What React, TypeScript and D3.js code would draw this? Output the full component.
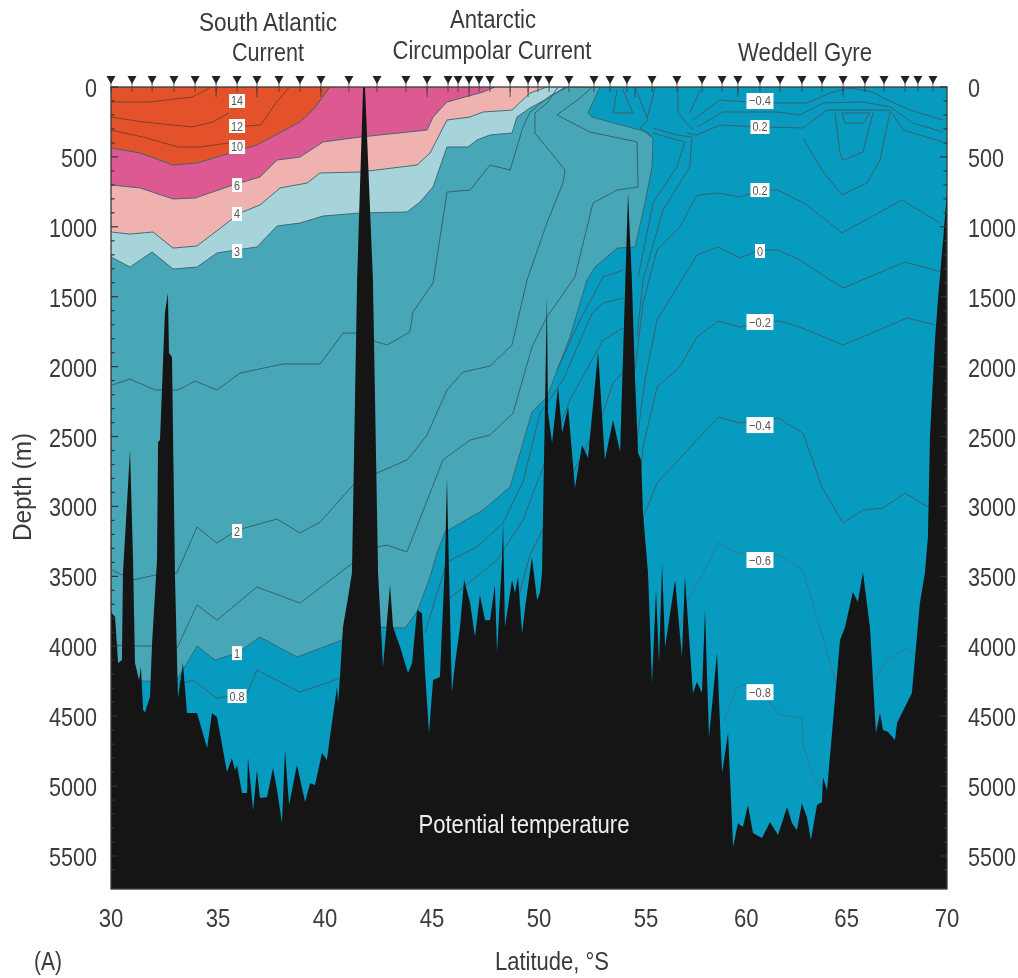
import React from "react";
import * as d3 from "d3";

type P = [number, number]; // [latitude °S, depth m]

const latTicks = [30, 35, 40, 45, 50, 55, 60, 65, 70];
const depthTicks = [0, 500, 1000, 1500, 2000, 2500, 3000, 3500, 4000, 4500, 5000, 5500];
const minorDepths = d3.range(0, 5700, 100);

const stationLat = [30, 30.98, 31.92, 32.94, 33.93, 34.91, 35.89, 36.82, 37.85, 38.83, 39.81, 41.12, 42.43, 43.78, 44.77, 45.75, 46.22, 46.73, 47.2, 47.71, 48.65, 49.49, 49.95, 50.47, 51.4, 52.57, 53.32, 54.11, 55.3, 56.54, 57.79, 58.79, 59.58, 60.68, 61.68, 62.77, 63.77, 64.82, 65.91, 66.86, 67.91, 68.55, 69.3];
const longTickLat = [34.91, 36.82, 39.81, 44.77, 46.73, 48.65, 49.49, 54.49, 59.58, 64.82];

const bathyLat = [30, 30.19, 30.33, 30.51, 30.56, 30.89, 31.03, 31.12, 31.31, 31.4, 31.5, 31.59, 31.82, 31.92, 32.15, 32.2, 32.29, 32.52, 32.66, 32.71, 32.85, 32.99, 33.13, 33.36, 33.55, 34.02, 34.49, 34.72, 34.95, 35.09, 35.42, 35.65, 35.79, 35.89, 36.12, 36.36, 36.4, 36.64, 36.82, 36.96, 37.29, 37.57, 37.76, 37.99, 38.13, 38.32, 38.69, 39.07, 39.3, 39.53, 39.86, 40.09, 40.23, 40.56, 40.61, 40.7, 40.84, 41.08, 41.26, 41.5, 41.78, 41.87, 42.24, 42.48, 42.71, 43.04, 43.18, 43.51, 43.88, 44.07, 44.3, 44.53, 44.67, 44.86, 45.05, 45.37, 45.61, 45.7, 45.75, 45.93, 46.08, 46.31, 46.5, 46.78, 47.01, 47.24, 47.48, 47.71, 47.94, 48.04, 48.27, 48.32, 48.41, 48.74, 48.88, 49.02, 49.21, 49.35, 49.67, 49.91, 50.05, 50.14, 50.37, 50.42, 50.61, 50.89, 51.08, 51.36, 51.68, 52.01, 52.29, 52.76, 53.08, 53.46, 53.79, 54.16, 54.34, 54.49, 54.63, 54.77, 54.86, 55.1, 55.3, 55.5, 55.65, 55.8, 55.95, 56.45, 56.79, 56.94, 57.34, 57.54, 57.79, 57.94, 58.14, 58.54, 58.79, 59.09, 59.34, 59.58, 59.83, 60.08, 60.33, 60.78, 61.18, 61.58, 62.03, 62.28, 62.52, 62.77, 63.02, 63.22, 63.52, 63.77, 63.82, 64.02, 64.27, 64.67, 64.92, 65.31, 65.56, 65.81, 66.16, 66.46, 66.66, 66.81, 67.06, 67.41, 67.51, 68.25, 68.65, 68.9, 69.05, 69.15, 69.4, 69.55, 69.9, 70];
const bathyDepth = [3755, 3791, 4120, 4099, 3476, 2597, 3383, 4120, 4242, 4149, 4456, 4471, 4363, 3977, 3383, 2539, 2525, 1617, 1474, 1903, 1931, 3505, 4371, 4120, 4478, 4478, 4728, 4478, 4506, 4621, 4900, 4800, 4886, 4850, 5050, 5050, 4793, 5172, 4886, 5086, 5079, 4871, 5029, 5265, 4742, 5136, 4850, 5114, 4979, 4993, 4764, 4814, 4650, 4292, 4406, 4220, 3863, 3648, 3476, 1381, 0, 0, 1381, 3476, 4149, 3562, 3863, 4006, 4192, 4120, 3741, 3763, 4170, 4621, 4242, 4220, 3383, 2790, 3169, 4328, 4120, 3863, 3526, 3691, 3934, 3634, 3813, 3813, 3562, 4049, 3383, 3119, 3863, 3526, 3619, 3505, 3906, 3727, 3362, 3670, 3612, 3476, 1502, 2332, 2546, 2146, 2475, 2289, 2868, 2561, 2654, 1896, 2668, 2382, 2611, 758, 1381, 2096, 2618, 2668, 3047, 3476, 4263, 3598, 4120, 3405, 4006, 3526, 4077, 3505, 4335, 4256, 4335, 3741, 4650, 4049, 4907, 4621, 5436, 5265, 5293, 5136, 5336, 5372, 5257, 5350, 5150, 5265, 5315, 5122, 5222, 5386, 5136, 5114, 4936, 5029, 4621, 3956, 3863, 3612, 3684, 3469, 3863, 4621, 4478, 4599, 4614, 4671, 4549, 4335, 3691, 3476, 3219, 2504, 1810, 1524, 930, 737];
const seafloor: P[] = bathyLat.map((l, i) => [l, bathyDepth[i]]);

const iso8: P[] = [[30, 436], [31.36, 472], [32.9, 558], [34.02, 544], [34.95, 501], [36.82, 415], [38.83, 250], [39.44, 165], [40.23, 0]];
const iso6: P[] = [[30, 701], [31.36, 722], [32.9, 801], [33.93, 794], [35.7, 701], [36.96, 644], [37.76, 522], [38.83, 501], [39.91, 393], [41.64, 358], [44.77, 308], [45.05, 215], [45.7, 107], [47.38, 36], [47.94, 0]];
const iso4: P[] = [[30, 1037], [30.89, 1052], [31.96, 1037], [32.9, 1152], [34.02, 1137], [36.03, 901], [36.96, 844], [37.9, 722], [39.16, 687], [39.77, 615], [41.64, 608], [44.3, 558], [44.91, 472], [45.7, 236], [46.78, 215], [47.38, 179], [48.74, 165], [49.58, 43], [50.37, 0]];
const iso3: P[] = [[30, 1216], [30.89, 1288], [31.92, 1180], [32.9, 1302], [34.02, 1288], [34.95, 1187], [36.82, 1144], [37.76, 994], [38.83, 973], [39.91, 923], [41.64, 901], [43.83, 894], [44.44, 823], [45.05, 715], [45.7, 429], [46.68, 429], [47.1, 379], [47.71, 343], [48.74, 329], [48.97, 215], [49.58, 150], [50.51, 72], [51.22, 0]];
const iso1: P[] = [[30, 4249], [33.04, 4249], [33.36, 4170], [34.02, 3998], [34.86, 4099], [35.89, 4049], [36.96, 3934], [38.69, 4077], [40.79, 3956], [42.57, 3863], [43.74, 3870], [44.3, 3755], [44.91, 3505], [45.23, 3333], [45.61, 3183], [47.38, 3026], [48.65, 2861], [49.67, 2325], [50.37, 2217], [51.45, 1788], [52.24, 1381], [52.62, 1288], [53.65, 1152], [54.49, 1144], [54.95, 830], [55.3, 572], [55.35, 365], [55.05, 322], [52.48, 215], [52.29, 186], [52.85, 0]];

const orangeLines: P[][] = [
  [[30, 107], [31.8, 107], [33.8, 72], [34.6, 7]],
  [[30, 215], [31.5, 250], [33.8, 286], [34.77, 250], [35.5, 186]],
  [[35.6, 286], [37, 272], [37.7, 115], [38.3, 7]],
  [[30, 308], [31.5, 358], [33.13, 429], [34.2, 429], [35.5, 400]],
];

const contourLines: P[][] = [
  [[30.05, 2132], [30.89, 2089], [32.06, 2167], [33.13, 2167], [33.93, 2103], [34.95, 2167], [36.03, 2046], [38.04, 1981], [39.77, 1981], [40.84, 1760], [41.4, 1760], [42.43, 1824], [42.9, 1845], [43.97, 1752], [44.11, 1609], [45.05, 1402], [45.7, 751], [46.78, 737], [47.71, 558], [48.65, 594], [49.25, 286], [49.58, 179], [50.51, 64], [51.36, 0]],
  [[30.05, 3455], [31.03, 3526], [32.06, 3491], [33.08, 3476], [34.02, 3147], [34.95, 3262], [35.89, 3169], [37.76, 3090], [38.83, 3190], [39.77, 3112], [41.31, 2847], [42.43, 2761], [43.83, 2668], [44.11, 2618], [44.77, 2489], [45.7, 2167], [46.45, 2039], [47.71, 1996], [48.74, 1845], [49.44, 1381], [50.37, 973], [51.12, 687], [51.22, 594], [49.81, 329], [49.81, 186], [50.42, 107], [50.89, 0]],
  [[30.05, 3991], [31.03, 3998], [31.92, 3998], [33.08, 4013], [34.02, 3705], [34.95, 3813], [36.82, 3576], [38.83, 3691], [41.17, 3419], [42.43, 3290], [42.9, 3276], [43.83, 3326], [45.51, 2668], [46.78, 2525], [47.71, 2489], [48.79, 2332], [49.67, 1860], [50.37, 1645], [51.68, 1359], [52.52, 830], [53.65, 737], [54.63, 715], [54.58, 393], [52.38, 322], [50.84, 200], [51.92, 79], [52.48, 0]],
  [[33.08, 4278], [33.83, 4242], [34.95, 4371], [36.36, 4335], [36.82, 4170], [38.83, 4328], [40.7, 4228]],
  [[44.67, 3906], [45.14, 3669], [45.7, 3398], [47.1, 3290], [48.32, 3118], [49.25, 2825], [50.05, 2332], [51.12, 2096], [52.48, 1617], [52.99, 1545], [53.93, 1509]],
  [[45.84, 3655], [48.04, 3383], [49.25, 3097], [50.19, 2718], [51.45, 2239], [52.99, 1810], [53.93, 1724]],
  [[48.88, 3741], [49.58, 3348], [50.75, 2990], [51.78, 2704], [52.99, 2332], [53.46, 2117], [53.93, 2039]],
  [[50.84, 2024], [51.92, 1667], [52.99, 1359], [53.93, 1309]],
  [[54.49, 2024], [54.86, 1545], [55.55, 1166], [56.69, 1001], [57.54, 773], [58.59, 758], [59.68, 787], [60.68, 737], [61.58, 737], [63.02, 844], [64.77, 1044], [67.76, 808], [69.65, 973]],
  [[54.58, 2525], [54.95, 2096], [55.55, 1667], [57.54, 1202], [58.59, 1144], [59.68, 1223], [60.68, 1166], [61.58, 1166], [62.67, 1237], [64.82, 1438], [67.91, 1252], [69.75, 1323]],
  [[54.58, 3047], [54.86, 2575], [55.55, 2146], [56.69, 2003], [57.54, 1788], [58.59, 1674], [59.68, 1717], [60.68, 1681], [61.68, 1674], [62.77, 1724], [64.82, 1845], [66.01, 1774], [68.01, 1652], [69.4, 1702]],
  [[54.63, 3169], [55.55, 2833], [58.59, 2361], [59.68, 2403], [61.58, 2368], [62.82, 2475], [63.77, 2861], [64.82, 3119], [65.81, 3026], [66.81, 3012], [67.91, 2904], [69.05, 3004]],
  [[57.34, 236], [58.69, 93], [60.03, 107], [61.53, 114], [63.02, 114], [64.17, 43], [65.17, 7], [66.31, 36], [66.81, 79], [68.16, 165], [69.8, 236]],
  [[57.54, 286], [58.84, 179], [60.03, 179], [61.53, 179], [62.67, 200], [63.82, 114], [65.81, 107], [67.16, 143], [68.3, 258], [69.8, 322]],
  [[57.04, 329], [57.54, 343], [58.69, 272], [60.68, 286], [62.82, 293], [64.02, 165], [67.16, 165], [67.81, 308], [69.8, 393]],
  [[56.59, 0], [56.59, 186], [57.34, 308]],
  [[57.19, 186], [57.69, 21]],
  [[54.49, 0], [55.1, 236], [54.72, 293], [55.35, 365]],
  [[55.45, 0], [55.3, 93], [55.05, 222]],
  [[53.65, 21], [53.46, 186], [54.39, 186], [53.9, 10]],
  [[55.35, 293], [56.54, 343], [57.29, 358], [57.19, 572], [55.85, 880], [54.86, 1381], [54.58, 1788]],
  [[55.35, 329], [56.54, 379], [56.94, 393], [56.54, 572], [55.35, 830], [54.63, 1359]],
  [[64.77, 186], [66.16, 186], [65.81, 258], [64.92, 258], [64.77, 186]],
  [[64.42, 186], [64.67, 472], [64.82, 522], [65.81, 465], [66.31, 186]],
  [[62.82, 365], [63.77, 594], [64.77, 773], [66.01, 687], [66.66, 522], [67.16, 179]],
];
const faintLines: P[][] = [
  [[56.69, 3863], [57.04, 3691], [58.19, 3383], [58.59, 3255], [59.53, 3333], [61.68, 3348], [62.82, 3455], [63.67, 3863], [64.52, 4292]],
  [[66.31, 4263], [67.01, 4099], [68.01, 4013], [68.5, 4063]],
  [[58.89, 4528], [59.53, 4292], [60.03, 4270], [61.18, 4399], [61.68, 4492], [62.77, 4514], [62.82, 4692], [63.32, 4936], [63.92, 5050]],
];

const labelText = ["14", "12", "10", "6", "4", "3", "2", "1", "0.8", "\u22120.4", "0.2", "0.2", "0", "\u22120.2", "\u22120.4", "\u22120.6", "\u22120.8"];
const labelLat = [35.89, 35.89, 35.89, 35.89, 35.89, 35.89, 35.89, 35.89, 35.89, 60.68, 60.68, 60.68, 60.68, 60.68, 60.68, 60.68, 60.68];
const labelDepth = [100, 279, 429, 701, 908, 1173, 3176, 4049, 4356, 100, 286, 737, 1173, 1681, 2418, 3383, 4328];

const x = d3.scaleLinear().domain([30, 55, 70]).range([111, 646, 947]);
const y = d3.scaleLinear().domain([0, 5500]).range([87, 856]);
const yBottom = 889;

const lineGen = d3.line<P>().x((d) => x(d[0])).y((d) => y(d[1]));
const band = d3.area<P>().x((d) => x(d[0])).y0(87).y1((d) => y(d[1]));
const floor = d3.area<P>().x((d) => x(d[0])).y0(yBottom).y1((d) => y(d[1]));
const teal = lineGen([[30, 0], ...iso1, [30, 0]]) as string;

const FONT = "'Liberation Sans', Arial, sans-serif";
const TEXT = "#3b3b3b";
const LINE = "#38626e";
const DIGIT = 12;

const Fit = ({ x: tx, y: ty, w, anchor = "middle", fill = TEXT, size = 25, transform, children }: any) => (
  <text x={tx} y={ty} fontSize={size} fill={fill} textAnchor={anchor} textLength={w}
    lengthAdjust="spacingAndGlyphs" transform={transform}>{children}</text>
);
// depth labels are narrowed by a horizontal scale so that their box stays inside the page
const Narrow = ({ x: tx, y: ty, anchor, children }: any) => (
  <text transform={`translate(${tx},${ty}) scale(${DIGIT / (0.556 * 25)},1)`} fontSize={25} fill={TEXT} textAnchor={anchor}>{children}</text>
);

export default function App() {
  return (
    <svg width={1018} height={978} viewBox="0 0 1018 978"
      style={{ position: "absolute", left: 0, top: 0, display: "block", background: "#fff", filter: "blur(0.6px)" }}
      fontFamily={FONT}>
      <defs>
        <clipPath id="plot"><rect x={111} y={87} width={836} height={802} /></clipPath>
      </defs>

      <g clipPath="url(#plot)">
        <rect x={111} y={87} width={836} height={802} fill="#089bc0" />
        <path d={teal} fill="#47a7b6" stroke={LINE} strokeWidth={0.9} />
        <path d={band(iso3) as string} fill="#a7d3db" />
        <path d={band(iso4) as string} fill="#efb2af" />
        <path d={band(iso6) as string} fill="#dd5992" />
        <path d={band(iso8) as string} fill="#e3522a" />
        {[iso3, iso4, iso6, iso8].map((l, i) => (
          <path key={i} d={lineGen(l) as string} fill="none" stroke={LINE} strokeWidth={0.9} />
        ))}
        {orangeLines.map((l, i) => (
          <path key={i} d={lineGen(l) as string} fill="none" stroke="#7a3b2a" strokeWidth={0.9} />
        ))}
        {contourLines.map((l, i) => (
          <path key={i} d={lineGen(l) as string} fill="none" stroke={LINE} strokeWidth={1} />
        ))}
        {faintLines.map((l, i) => (
          <path key={i} d={lineGen(l) as string} fill="none" stroke="#2f7c90" strokeWidth={1} />
        ))}
        <path d={floor(seafloor) as string} fill="#151515" />
      </g>

      {/* contour labels */}
      {labelText.map((t, i) => {
        const w = t.length >= 4 ? 27 : t.length === 3 ? 19 : t.length === 2 ? 16 : 10;
        const h = t.length >= 4 ? 16 : 14;
        const tw = t.length >= 4 ? 22 : t.length === 3 ? 15 : t.length === 2 ? 12 : 6;
        const cx = x(labelLat[i]);
        const cy = y(labelDepth[i]);
        return (
          <g key={i}>
            <rect x={cx - w / 2} y={cy - h / 2} width={w} height={h} fill="#fff" />
            <Fit x={cx} y={cy + 4.5} w={tw} size={13} fill="#555">{t}</Fit>
          </g>
        );
      })}

      {/* frame */}
      <rect x={111} y={87} width={836} height={802} fill="none" stroke="#3a3a3a" strokeWidth={1.3} />

      {/* depth ticks on both edges */}
      {minorDepths.map((d) => {
        const long = d % 500 === 0;
        const l = long ? 7 : 3.5;
        return (
          <g key={d} stroke="#333" strokeWidth={1.2}>
            <line x1={111} x2={111 + l} y1={y(d)} y2={y(d)} />
            <line x1={947} x2={947 - l} y1={y(d)} y2={y(d)} />
          </g>
        );
      })}

      {/* station ticks and markers */}
      {stationLat.map((l) => {
        const px = x(l);
        return (
          <g key={l}>
            <path d={`M${px - 4.5},76 L${px + 4.5},76 L${px},84 Z`} fill="#222" />
            <line x1={px} x2={px} y1={82} y2={92} stroke="#3a3a3a" strokeWidth={0.8} />
          </g>
        );
      })}
      {longTickLat.map((l) => (
        <line key={l} x1={x(l)} x2={x(l)} y1={87} y2={97} stroke="#3a3a3a" strokeWidth={0.8} />
      ))}

      {/* depth axis labels */}
      {depthTicks.map((d) => (
        <g key={d}>
          <Narrow x={97} y={y(d) + 10} anchor="end">{d}</Narrow>
          <Narrow x={968} y={y(d) + 10} anchor="start">{d}</Narrow>
        </g>
      ))}
      {/* latitude axis labels */}
      {latTicks.map((l) => (
        <Fit key={l} x={x(l)} y={927} w={2 * 12.3}>{l}</Fit>
      ))}

      <Fit x={268} y={31} w={138}>South Atlantic</Fit>
      <Fit x={268} y={61} w={72}>Current</Fit>
      <Fit x={493} y={28} w={86}>Antarctic</Fit>
      <Fit x={492} y={59} w={199}>Circumpolar Current</Fit>
      <Fit x={805} y={61} w={134}>Weddell Gyre</Fit>
      <Fit x={552} y={970} w={114}>Latitude, °S</Fit>
      <Fit x={48} y={970} w={28}>(A)</Fit>
      <Fit x={0} y={0} w={108} transform="translate(31,487) rotate(-90)">Depth (m)</Fit>
      <Fit x={524} y={833} w={211} fill="#eee">Potential temperature</Fit>
    </svg>
  );
}
